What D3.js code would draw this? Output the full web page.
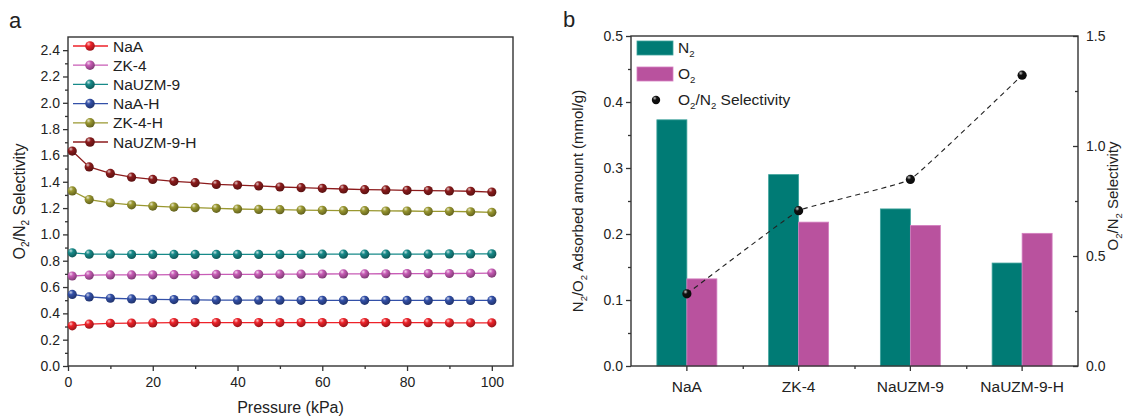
<!DOCTYPE html>
<html>
<head>
<meta charset="utf-8">
<script src="https://cdn.jsdelivr.net/npm/d3@7"></script>
<style>
  html,body{margin:0;padding:0;background:#fff;}
  svg{display:block;font-family:"Liberation Sans",Arial,sans-serif;}
</style>
</head>
<body>
<svg id="chart" width="1126" height="417"></svg>
<script>
// ---------- DATA ----------
const pressure = [1,5,10,15,20,25,30,35,40,45,50,55,60,65,70,75,80,85,90,95,100];
const seriesNames = ["NaA","ZK-4","NaUZM-9","NaA-H","ZK-4-H","NaUZM-9-H"];
const NaA       = [0.305,0.318,0.324,0.326,0.327,0.330,0.330,0.330,0.330,0.330,0.330,0.330,0.330,0.330,0.330,0.330,0.330,0.329,0.328,0.328,0.328];
const ZK4       = [0.684,0.690,0.692,0.692,0.693,0.694,0.695,0.696,0.697,0.697,0.698,0.698,0.699,0.700,0.700,0.701,0.702,0.702,0.703,0.704,0.706];
const NaUZM9    = [0.860,0.850,0.850,0.848,0.848,0.848,0.848,0.848,0.848,0.848,0.848,0.848,0.850,0.850,0.850,0.850,0.850,0.850,0.852,0.852,0.852];
const NaAH      = [0.544,0.525,0.515,0.510,0.507,0.505,0.502,0.501,0.500,0.500,0.500,0.499,0.499,0.499,0.499,0.499,0.498,0.498,0.498,0.498,0.498];
const ZK4H      = [1.330,1.265,1.240,1.225,1.215,1.208,1.203,1.198,1.193,1.190,1.188,1.185,1.183,1.180,1.180,1.178,1.178,1.175,1.175,1.172,1.168];
const NaUZM9H   = [1.633,1.513,1.463,1.435,1.418,1.403,1.393,1.380,1.375,1.368,1.360,1.355,1.350,1.345,1.340,1.338,1.335,1.333,1.330,1.328,1.322];
const seriesColors = ["#ee2229","#c85cb6","#178a89","#3350a8","#9a9830","#8c1b1c"];
const yTicksA = [0,0.2,0.4,0.6,0.8,1.0,1.2,1.4,1.6,1.8,2.0,2.2,2.4];
const xTicksA = [0,20,40,60,80,100];

const samples = ["NaA","ZK-4","NaUZM-9","NaUZM-9-H"];
const adsN2 = [0.373,0.290,0.238,0.156];
const adsO2 = [0.132,0.218,0.213,0.201];
const selectivity = [0.328,0.706,0.848,1.322];
const yTicksBL = [0,0.1,0.2,0.3,0.4,0.5];
const yTicksBR = [0,0.5,1.0,1.5];

// ---------- SETUP ----------
const svg = d3.select("#chart");
const defs = svg.append("defs");
function ballGrad(id, color){
  const c = d3.color(color);
  const g = defs.append("radialGradient").attr("id",id)
    .attr("cx","35%").attr("cy","30%").attr("r","70%").attr("fx","35%").attr("fy","28%");
  g.append("stop").attr("offset","0%").attr("stop-color", d3.interpolateRgb(color,"#ffffff")(0.75));
  g.append("stop").attr("offset","35%").attr("stop-color", color);
  g.append("stop").attr("offset","100%").attr("stop-color", c.darker(1.2).formatHex());
}
seriesColors.forEach((c,i)=>ballGrad("ball"+i,c));
ballGrad("ballK","#111111");

const axisColor = "#333";
const FONT = '"Liberation Sans",Arial,sans-serif';

// ---------- PANEL A ----------
const A = {l:68, r:513, t:37, b:366};
const xA = d3.scaleLinear().domain([0,105]).range([A.l,A.r]);
const yA = d3.scaleLinear().domain([0,2.5]).range([A.b,A.t]);
const allSeries = [NaA,ZK4,NaUZM9,NaAH,ZK4H,NaUZM9H];

const gA = svg.append("g");
gA.append("rect").attr("x",A.l).attr("y",A.t).attr("width",A.r-A.l).attr("height",A.b-A.t)
  .attr("fill","none").attr("stroke",axisColor).attr("stroke-width",1.4);

function styleAxis(g, fs){
  g.select(".domain").remove();
  g.selectAll("line").attr("stroke",axisColor).attr("stroke-width",1.3);
  g.selectAll("text").attr("fill","#222").style("font-size",fs+"px").style("font-family",FONT);
}
const yAxA = gA.append("g").attr("transform",`translate(${A.l},0)`)
  .call(d3.axisLeft(yA).tickValues(yTicksA).tickFormat(d3.format(".1f")).tickSize(5).tickPadding(3));
styleAxis(yAxA,14);
gA.append("g").attr("transform",`translate(${A.l},0)`)
  .call(d3.axisLeft(yA).tickValues(d3.range(0.1,2.5,0.2)).tickFormat("").tickSize(3))
  .call(g=>styleAxis(g,14));
const xAxA = gA.append("g").attr("transform",`translate(0,${A.b})`)
  .call(d3.axisBottom(xA).tickValues(xTicksA).tickSize(5).tickPadding(6));
styleAxis(xAxA,14);
gA.append("g").attr("transform",`translate(0,${A.b})`)
  .call(d3.axisBottom(xA).tickValues(d3.range(10,101,20)).tickFormat("").tickSize(3))
  .call(g=>styleAxis(g,14));

const lineA = d3.line().x((d,i)=>xA(pressure[i])).y(d=>yA(d));
allSeries.forEach((s,k)=>{
  gA.append("path").datum(s).attr("d",lineA).attr("fill","none")
    .attr("stroke",seriesColors[k]).attr("stroke-width",1.3);
  gA.selectAll(null).data(s).enter().append("circle")
    .attr("cx",(d,i)=>xA(pressure[i])).attr("cy",d=>yA(d)).attr("r",4.6)
    .attr("fill",`url(#ball${k})`);
});
seriesNames.forEach((n,k)=>{
  const y = 46 + k*19.2;
  gA.append("line").attr("x1",73).attr("x2",108).attr("y1",y).attr("y2",y)
    .attr("stroke",seriesColors[k]).attr("stroke-width",1.3);
  gA.append("circle").attr("cx",90).attr("cy",y).attr("r",4.8).attr("fill",`url(#ball${k})`);
  gA.append("text").attr("x",113).attr("y",y+5.5).text(n)
    .style("font-size","15.5px").attr("fill","#222");
});
gA.append("text").attr("x",(A.l+A.r)/2).attr("y",413).attr("text-anchor","middle")
  .style("font-size","16px").attr("fill","#222").text("Pressure (kPa)");
const tA = gA.append("text").attr("transform",`translate(25,${(A.t+A.b)/2}) rotate(-90)`)
  .attr("text-anchor","middle").style("font-size","16px").attr("fill","#222");
tA.append("tspan").text("O");
tA.append("tspan").text("2").style("font-size","10px").attr("dy",4);
tA.append("tspan").text("/N").attr("dy",-4);
tA.append("tspan").text("2").style("font-size","10px").attr("dy",4);
tA.append("tspan").text(" Selectivity").attr("dy",-4);
svg.append("text").attr("x",9).attr("y",28).text("a").style("font-size","22px").attr("fill","#222");

// ---------- PANEL B ----------
const B = {l:631, r:1078, t:36, b:366};
const xB = d3.scaleBand().domain(samples).range([B.l,B.r]);
const yBL = d3.scaleLinear().domain([0,0.5]).range([B.b,B.t]);
const yBR = d3.scaleLinear().domain([0,1.5]).range([B.b,B.t]);
const barW = 30;
const gB = svg.append("g");

gB.selectAll(".n2").data(adsN2).enter().append("rect")
  .attr("x",(d,i)=>xB(samples[i])+xB.bandwidth()/2-barW).attr("width",barW)
  .attr("y",d=>yBL(d)).attr("height",d=>yBL(0)-yBL(d))
  .attr("fill","#007b75").attr("stroke","#3fa39c").attr("stroke-width",0.8);
gB.selectAll(".o2").data(adsO2).enter().append("rect")
  .attr("x",(d,i)=>xB(samples[i])+xB.bandwidth()/2).attr("width",barW)
  .attr("y",d=>yBL(d)).attr("height",d=>yBL(0)-yBL(d))
  .attr("fill","#b9529e").attr("stroke","#d47fc0").attr("stroke-width",0.8);

gB.append("rect").attr("x",B.l).attr("y",B.t).attr("width",B.r-B.l).attr("height",B.b-B.t)
  .attr("fill","none").attr("stroke",axisColor).attr("stroke-width",1.4);

gB.append("g").attr("transform",`translate(${B.l},0)`)
  .call(d3.axisLeft(yBL).tickValues(yTicksBL).tickFormat(d3.format(".1f")).tickSize(5).tickPadding(3))
  .call(g=>styleAxis(g,14));
gB.append("g").attr("transform",`translate(${B.l},0)`)
  .call(d3.axisLeft(yBL).tickValues([0.05,0.15,0.25,0.35,0.45]).tickFormat("").tickSize(3))
  .call(g=>styleAxis(g,14));
const rAx = gB.append("g").attr("transform",`translate(${B.r},0)`)
  .call(d3.axisRight(yBR).tickValues(yTicksBR).tickFormat(d3.format(".1f")).tickSize(-5).tickPadding(8));
styleAxis(rAx,14);
gB.append("g").attr("transform",`translate(${B.r},0)`)
  .call(d3.axisRight(yBR).tickValues([0.25,0.75,1.25]).tickFormat("").tickSize(-3))
  .call(g=>styleAxis(g,14));
gB.append("g").attr("transform",`translate(0,${B.b})`)
  .call(d3.axisBottom(xB).tickSize(5).tickPadding(10))
  .call(g=>styleAxis(g,15.5));
gB.append("g").attr("transform",`translate(0,${B.b})`)
  .call(d3.axisBottom(d3.scaleLinear().domain([0,4]).range([B.l,B.r])).tickValues([1,2,3]).tickFormat("").tickSize(3))
  .call(g=>styleAxis(g,14));

const lineB = d3.line().x((d,i)=>xB(samples[i])+xB.bandwidth()/2).y(d=>yBR(d)).curve(d3.curveCardinal.tension(0.75));
gB.append("path").datum(selectivity).attr("d",lineB).attr("fill","none")
  .attr("stroke","#222").attr("stroke-width",1.1).attr("stroke-dasharray","5,4");
gB.selectAll(".sel").data(selectivity).enter().append("circle")
  .attr("cx",(d,i)=>xB(samples[i])+xB.bandwidth()/2).attr("cy",d=>yBR(d)).attr("r",4.6)
  .attr("fill","url(#ballK)");

gB.append("rect").attr("x",637).attr("y",41).attr("width",36).attr("height",14).attr("fill","#007b75").attr("stroke","#3fa39c").attr("stroke-width",0.8);
gB.append("rect").attr("x",637).attr("y",67).attr("width",36).attr("height",14).attr("fill","#b9529e").attr("stroke","#d47fc0").attr("stroke-width",0.8);
gB.append("circle").attr("cx",656).attr("cy",100).attr("r",4.2).attr("fill","url(#ballK)");
function subText(g,x,y,parts,fs){
  const t = g.append("text").attr("x",x).attr("y",y).style("font-size",fs+"px").attr("fill","#222");
  parts.forEach(p=>{
    if(p.sub){ t.append("tspan").text(p.t).style("font-size",(fs*0.62)+"px").attr("dy",4); }
    else { t.append("tspan").text(p.t).attr("dy",p.after? -4:0); }
  });
  return t;
}
subText(gB,678,53,[{t:"N"},{t:"2",sub:true}],15.5);
subText(gB,678,79,[{t:"O"},{t:"2",sub:true}],15.5);
subText(gB,678,105,[{t:"O"},{t:"2",sub:true},{t:"/N",after:true},{t:"2",sub:true},{t:" Selectivity",after:true}],15.5);

const tBL = gB.append("text").attr("transform",`translate(583,${(B.t+B.b)/2}) rotate(-90)`)
  .attr("text-anchor","middle").style("font-size","15px").attr("fill","#222");
tBL.append("tspan").text("N");
tBL.append("tspan").text("2").style("font-size","9.5px").attr("dy",4);
tBL.append("tspan").text("/O").attr("dy",-4);
tBL.append("tspan").text("2").style("font-size","9.5px").attr("dy",4);
tBL.append("tspan").text(" Adsorbed amount (mmol/g)").attr("dy",-4);

const tBR = gB.append("text").attr("transform",`translate(1118,196) rotate(-90)`)
  .attr("text-anchor","middle").style("font-size","15px").attr("fill","#222");
tBR.append("tspan").text("O");
tBR.append("tspan").text("2").style("font-size","9.5px").attr("dy",4);
tBR.append("tspan").text("/N").attr("dy",-4);
tBR.append("tspan").text("2").style("font-size","9.5px").attr("dy",4);
tBR.append("tspan").text(" Selectivity").attr("dy",-4);

svg.append("text").attr("x",563).attr("y",27).text("b").style("font-size","22px").attr("fill","#222");
</script>
</body>
</html>
